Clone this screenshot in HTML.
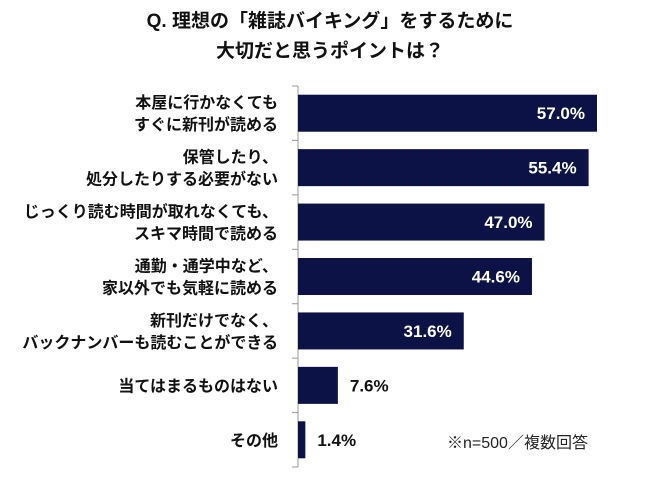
<!DOCTYPE html>
<html><head><meta charset="utf-8"><style>
body{margin:0;background:#fff;width:650px;height:480px;overflow:hidden;font-family:"Liberation Sans","Noto Sans CJK JP",sans-serif;}
</style></head><body>
<svg width="650" height="480" xmlns="http://www.w3.org/2000/svg">
<text x="330" y="27" text-anchor="middle" font-size="19" font-weight="bold" fill="#111" font-family="Liberation Sans, Noto Sans CJK JP, sans-serif">Q. 理想の「雑誌バイキング」をするために</text>
<text x="330" y="57" text-anchor="middle" font-size="19" font-weight="bold" fill="#111" font-family="Liberation Sans, Noto Sans CJK JP, sans-serif">大切だと思うポイントは？</text>
<g id="plot"></g>
<text x="447" y="448" font-size="16" fill="#222" font-family="Liberation Sans, Noto Sans CJK JP, sans-serif">※n=500／複数回答</text>
</svg>
<script>
const categories=[["本屋に行かなくても","すぐに新刊が読める"],["保管したり、","処分したりする必要がない"],["じっくり読む時間が取れなくても、","スキマ時間で読める"],["通勤・通学中など、","家以外でも気軽に読める"],["新刊だけでなく、","バックナンバーも読むことができる"],["当てはまるものはない"],["その他"]];
const values=[57.0,55.4,47.0,44.6,31.6,7.6,1.4];
const valueLabels=["57.0%","55.4%","47.0%","44.6%","31.6%","7.6%","1.4%"];
const NS="http://www.w3.org/2000/svg";
const g=document.getElementById('plot');
const x0=298,scale=(597-298)/57,top0=86,band=54.43,bh=37;
const xs=v=>x0+v*scale;
const yb=i=>top0+i*band;
function mk(t,a){const e=document.createElementNS(NS,t);for(const k in a)e.setAttribute(k,a[k]);g.appendChild(e);return e;}
const ax=mk('line',{x1:x0,x2:x0,y1:top0,y2:top0+band*categories.length,stroke:'#999','stroke-width':1});


for(let i=0;i<=categories.length;i++){const t=mk('line',{x1:x0-6,x2:x0,y1:yb(i),y2:yb(i),stroke:'#999','stroke-width':1});

}
values.forEach((v,i)=>{
 const cy=yb(i)+band/2;
 const r=mk('rect',{x:x0,y:cy-bh/2,width:xs(v)-x0,height:bh,fill:'#0c1246'});
 
 
 const inside=v>20;
 const t=mk('text',{x:inside?xs(v)-12:xs(v)+12,y:cy+6,'text-anchor':inside?'end':'start','font-size':17,'font-weight':'bold',fill:inside?'#fff':'#111','font-family':'Liberation Sans, sans-serif'});
 t.textContent=valueLabels[i];
 
 
 const lines=categories[i];
 lines.forEach((s,j)=>{
  const off=lines.length===1?0:(j===0?-11:11);
  const c=mk('text',{x:278,y:cy+off+6,'text-anchor':'end','font-size':16,'font-weight':'bold',fill:'#111','font-family':'Liberation Sans, Noto Sans CJK JP, sans-serif'});
  c.textContent=s;
  
  
 });
});
</script>
</body></html>
